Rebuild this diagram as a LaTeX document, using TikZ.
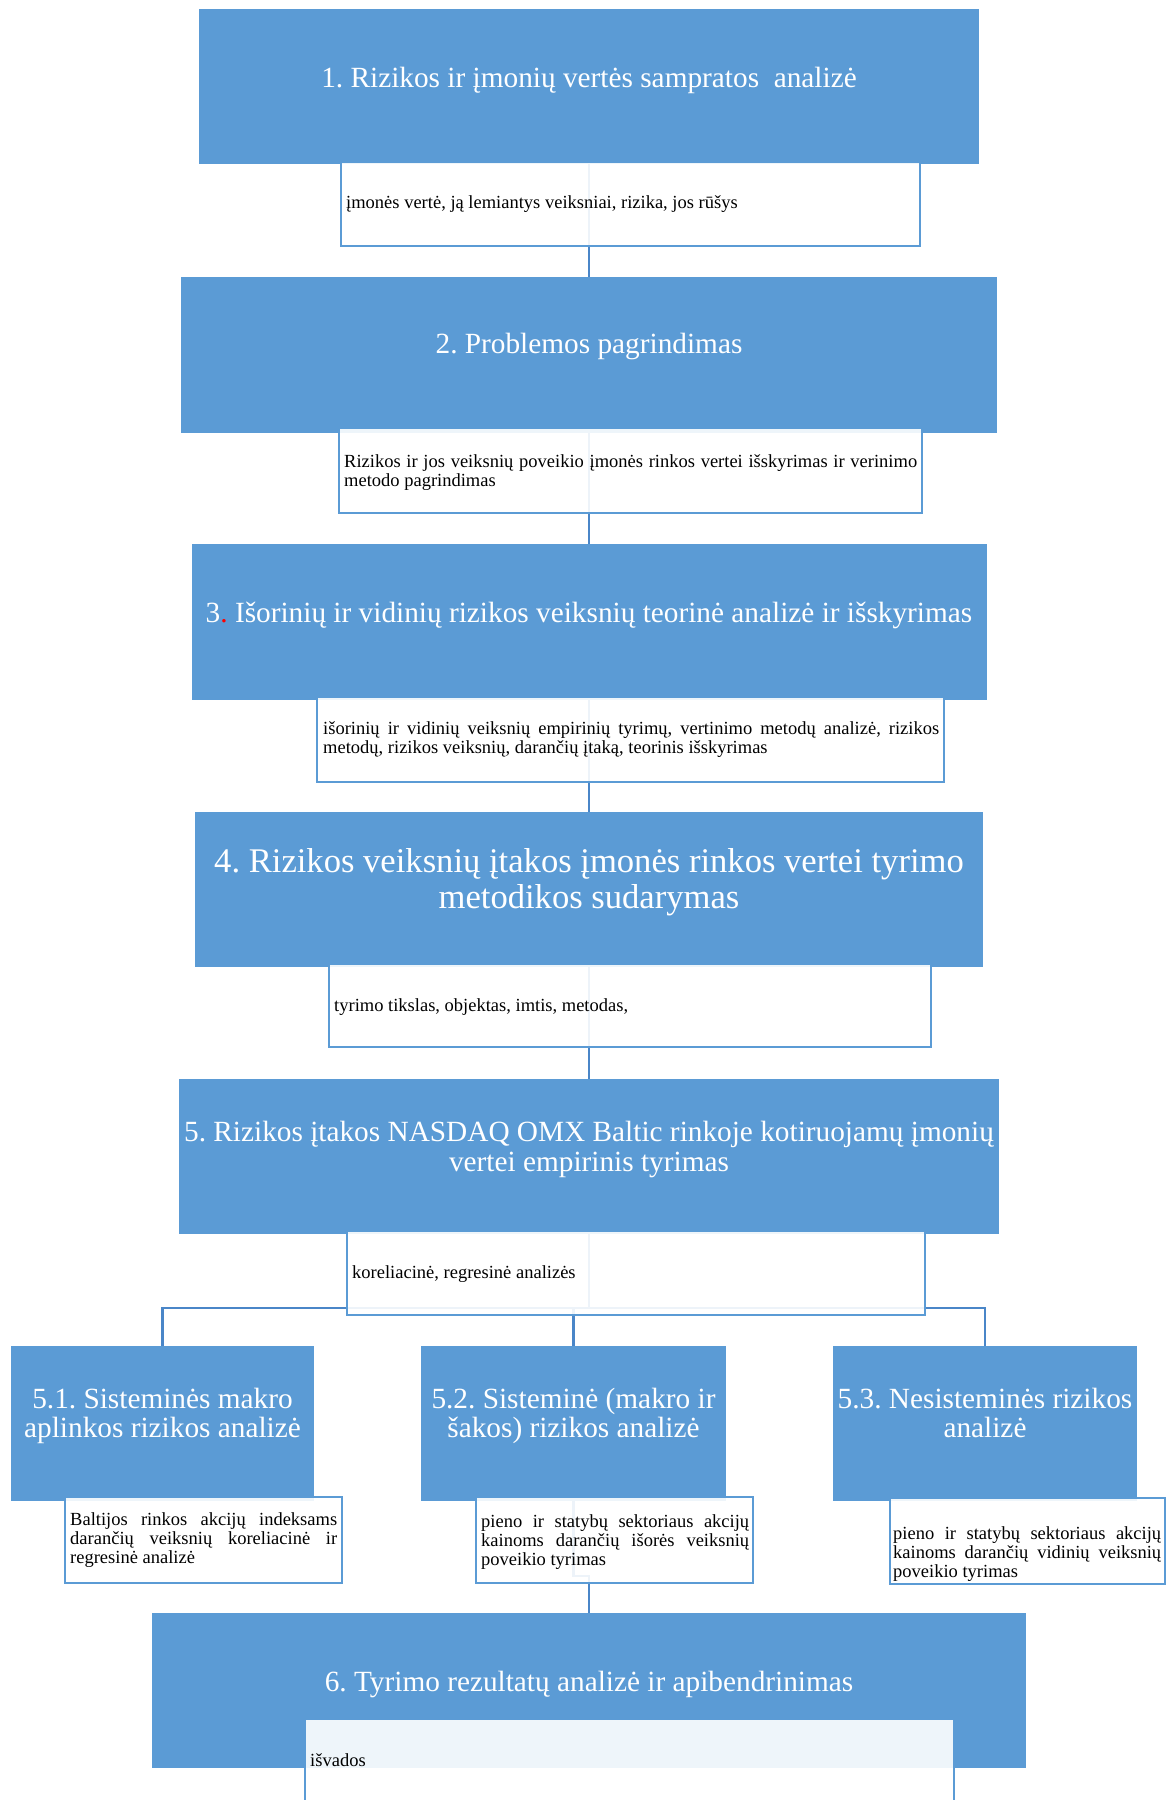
\documentclass[tikz,border=0pt]{standalone}
\usepackage{fontspec}
\setmainfont{Liberation Serif}
\frenchspacing
\definecolor{boxblue}{HTML}{5B9BD5}
\definecolor{linkblue}{HTML}{4A86C8}
\newcommand{\tfont}{\fontsize{29.3pt}{30.5pt}\selectfont}
\newcommand{\tbig}{\fontsize{34.6pt}{36pt}\selectfont}
\newcommand{\tsub}{\fontsize{29.3pt}{29.5pt}\selectfont}
\newcommand{\sfont}{\fontsize{18.5pt}{19pt}\selectfont}
\begin{document}
\begin{tikzpicture}[x=1pt,y=-1pt,
  bluebox/.style={fill=boxblue, draw=none, inner sep=0pt, outer sep=0pt},
  whitebox/.style={fill=white, fill opacity=0.9, draw=boxblue, line width=2.5pt, inner sep=0pt, outer sep=0pt},
  conn/.style={draw=linkblue, line width=2.5pt},
  title/.style={text=white, inner sep=0pt, align=center, font=\tfont},
  small/.style={text=black, inner sep=0pt, font=\sfont},
  just/.style={small, align=justify, anchor=north west},
]
\useasboundingbox[fill=white] (0,0) rectangle (1171,1800);

% blue boxes
\node[bluebox, minimum width=780pt, minimum height=155pt] (b1) at (589,86.5) {};
\node[bluebox, minimum width=816pt, minimum height=156pt] (b2) at (589,355) {};
\node[bluebox, minimum width=795pt, minimum height=156pt] (b3) at (589.5,622) {};
\node[bluebox, minimum width=788pt, minimum height=155pt] (b4) at (589,889.5) {};
\node[bluebox, minimum width=820pt, minimum height=155pt] (b5) at (589,1156.5) {};
\node[bluebox, minimum width=303pt, minimum height=155pt] (b51) at (162.5,1423.5) {};
\node[bluebox, minimum width=305pt, minimum height=155pt] (b52) at (573.5,1423.5) {};
\node[bluebox, minimum width=304pt, minimum height=155pt] (b53) at (985,1423.5) {};
\node[bluebox, minimum width=874pt, minimum height=155pt] (b6) at (589,1690.5) {};

% connectors
\coordinate (j) at (589,1308);
\draw[conn] (b1.south) -- (b1.south |- b2.north);
\draw[conn] (b2.south) -- (b2.south |- b3.north);
\draw[conn] (b3.south -| b2.south) -- (b2.south |- b4.north);
\draw[conn] (b4.south) -- (b4.south |- b5.north);
\draw[conn] (b5.south) -- (j);
\draw[conn] (b51.north) |- (j) -| (b53.north);
\draw[conn] (b52.north) -- (b52.north |- j);
\draw[conn] (b52.south) -- ++(0,75) -| (b6.north);

% white boxes
\node[whitebox, minimum width=579pt, minimum height=84pt] (w1) at (630.5,204) {};
\node[whitebox, minimum width=583pt, minimum height=85pt] (w2) at (630.5,470.5) {};
\node[whitebox, minimum width=627pt, minimum height=85pt] (w3) at (630.5,739.5) {};
\node[whitebox, minimum width=602pt, minimum height=83pt] (w4) at (630,1005.5) {};
\node[whitebox, minimum width=578pt, minimum height=84pt] (w5) at (636,1273) {};
\node[whitebox, minimum width=277pt, minimum height=86pt] (w51) at (203.5,1540) {};
\node[whitebox, minimum width=277pt, minimum height=86pt] (w52) at (614.5,1540) {};
\node[whitebox, minimum width=275pt, minimum height=86pt] (w53) at (1027.5,1541) {};
\node[whitebox, minimum width=649pt, minimum height=94pt] (w6) at (629.5,1766) {};

% titles
\node[title, anchor=base] (t1) at (589,87) {1. Rizikos ir įmonių vertės sampratos~ analizė};
\node[title, anchor=base] (t2) at (589,353) {2. Problemos pagrindimas};
\node[title, anchor=base] (t3) at (589,622) {3{\color{red}.} Išorinių ir vidinių rizikos veiksnių teorinė analizė ir išskyrimas};
\node[title, font=\tbig, anchor=north] (t4) at (589,846.8) {\strut 4. Rizikos veiksnių įtakos įmonės rinkos vertei tyrimo\\ metodikos sudarymas};
\node[title, anchor=north] (t5) at (589,1119.6) {\strut 5. Rizikos įtakos NASDAQ OMX Baltic rinkoje kotiruojamų įmonių\\ vertei empirinis tyrimas};
\node[title, font=\tsub, anchor=north] (t51) at (162.5,1387.3) {\strut 5.1. Sisteminės makro\\ aplinkos rizikos analizė};
\node[title, font=\tsub, anchor=north] (t52) at (573.5,1387.3) {\strut 5.2. Sisteminė (makro ir\\ šakos) rizikos analizė};
\node[title, font=\tsub, anchor=north] (t53) at (985,1387.3) {\strut 5.3. Nesisteminės rizikos\\ analizė};
\node[title, anchor=base] (t6) at (589,1691) {6. Tyrimo rezultatų analizė ir apibendrinimas};

% small texts
\node[small, anchor=base west] (s1) at (346,208) {įmonės vertė, ją lemiantys veiksniai, rizika, jos rūšys};
\node[just, text width=573pt] (s2) at (344,453.7) {\strut Rizikos ir jos veiksnių poveikio įmonės rinkos vertei išskyrimas ir verinimo\linebreak metodo pagrindimas};
\node[just, text width=616pt] (s3) at (323,720.7) {\strut išorinių ir vidinių veiksnių empirinių tyrimų, vertinimo metodų analizė, rizikos\linebreak metodų, rizikos veiksnių, darančių įtaką, teorinis išskyrimas};
\node[small, anchor=base west] (s4) at (334,1011) {tyrimo tikslas, objektas, imtis, metodas,};
\node[small, anchor=base west] (s5) at (352,1278) {koreliacinė, regresinė analizės};
\node[just, text width=267pt] (s51) at (70,1511.7) {\strut Baltijos rinkos akcijų indeksams\linebreak darančių veiksnių koreliacinė ir\linebreak regresinė analizė};
\node[just, text width=268pt] (s52) at (481,1513.7) {\strut pieno ir statybų sektoriaus akcijų\linebreak kainoms darančių išorės veiksnių\linebreak poveikio tyrimas};
\node[just, text width=268pt] (s53) at (893,1525.7) {\strut pieno ir statybų sektoriaus akcijų\linebreak kainoms darančių vidinių veiksnių\linebreak poveikio tyrimas};
\node[small, anchor=base west] (s6) at (310,1766) {išvados};
\end{tikzpicture}
\end{document}
